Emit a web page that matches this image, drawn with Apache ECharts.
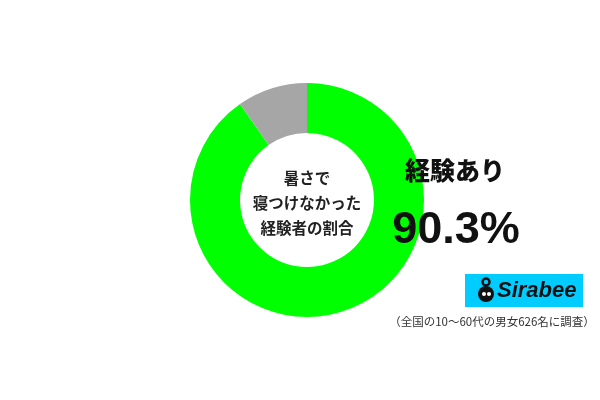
<!DOCTYPE html>
<html><head><meta charset="utf-8">
<script src="https://cdn.jsdelivr.net/npm/echarts@6/dist/echarts.min.js"></script>
<style>html,body{margin:0;padding:0;background:#fff}#c{width:600px;height:400px}</style>
</head><body><div id="c"></div>
<script>
const categories = ['経験あり', '経験なし'];
const values = [90.3, 9.7];
const colors = ['#00ff00', '#a6a6a6'];
const centerLines = ['暑さで', '寝つけなかった', '経験者の割合'];
const labelTitle = '経験あり';
const labelValue = '90.3%';
const note = '（全国の10～60代の男女626名に調査）';
const font = '"Noto Sans CJK JP", "Noto Sans", sans-serif';

const chart = echarts.init(document.getElementById('c'));
chart.setOption({
  animation: false,
  series: [{
    type: 'pie',
    center: [307, 200],
    radius: [67, 117],
    startAngle: 90,
    clockwise: true,
    label: {show: false},
    labelLine: {show: false},
    emphasis: {disabled: true},
    itemStyle: {borderWidth: 0},
    data: categories.map((c, i) => ({name: c, value: values[i], itemStyle: {color: colors[i]}}))
  }],
  graphic: {
    elements: [
      ...centerLines.map((t, i) => ({
        type: 'text', x: 307, y: 178 + i * 25, z: 100,
        style: {text: t, font: 'bold 15.5px ' + font, fill: '#222', align: 'center', verticalAlign: 'middle'}
      })),
      {type: 'text', x: 455, y: 170, z: 100, style: {text: labelTitle, font: '900 25px ' + font, fill: '#111', align: 'center', verticalAlign: 'middle'}},
      {type: 'text', x: 456, y: 231, z: 100, style: {text: labelValue, font: 'bold 45px "Liberation Sans", Arial, sans-serif', fill: '#111', align: 'center', verticalAlign: 'middle'}},
      {type: 'rect', z: 100, shape: {x: 465, y: 274, width: 118, height: 33}, style: {fill: '#00ccff'}},
      {type: 'circle', z: 101, shape: {cx: 486, cy: 294, r: 8}, style: {fill: '#111'}},
      {type: 'circle', z: 101, shape: {cx: 486, cy: 282, r: 3.5}, style: {fill: 'none', stroke: '#111', lineWidth: 2.5}},
      {type: 'circle', z: 102, shape: {cx: 484, cy: 294, r: 2}, style: {fill: '#fff'}},
      {type: 'circle', z: 102, shape: {cx: 489, cy: 294, r: 2}, style: {fill: '#fff'}},
      {type: 'text', x: 497, y: 291, z: 101, style: {text: 'Sirabee', font: 'italic bold 22px "Liberation Sans", Arial, sans-serif', fill: '#111', align: 'left', verticalAlign: 'middle'}},
      {type: 'text', x: 492, y: 322, z: 100, style: {text: note, font: '11.5px ' + font, fill: '#333', align: 'center', verticalAlign: 'middle'}}
    ]
  }
});
</script></body></html>
